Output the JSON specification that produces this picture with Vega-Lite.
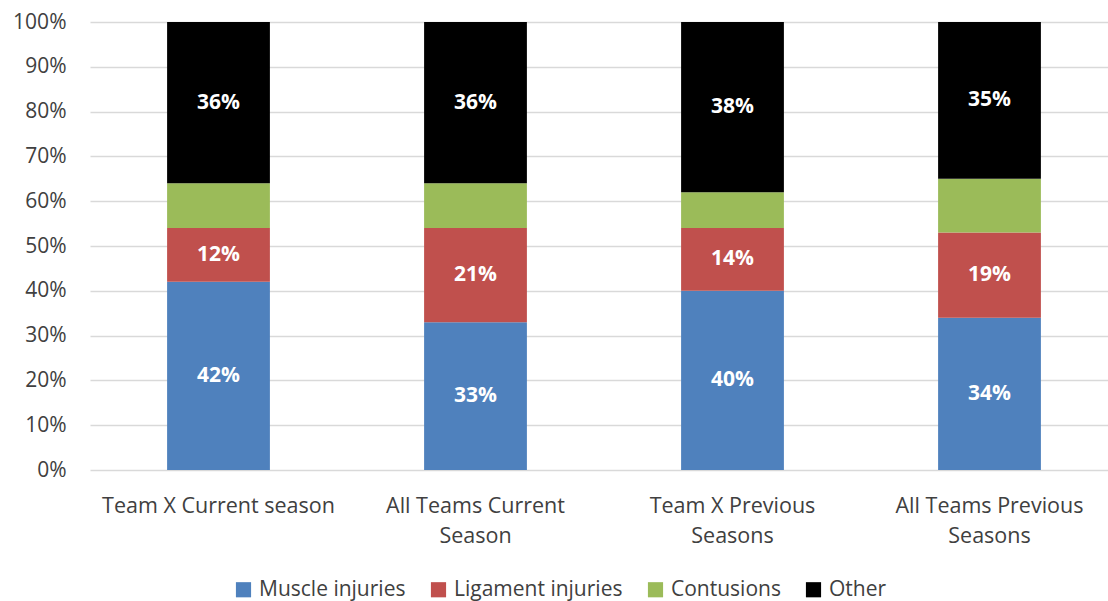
{
  "$schema": "https://vega.github.io/schema/vega-lite/v6.json",
  "width": 1018,
  "height": 448,
  "autosize": {"type": "none"},
  "padding": {"left": 90, "top": 22, "right": 0, "bottom": 131},
  "background": "white",
  "config": {
    "view": {"stroke": null},
    "font": "Open Sans",
    "axis": {"labelFont": "Open Sans", "labelColor": "#404040"},
    "legend": {"labelFont": "Open Sans"}
  },
  "data": {
    "values": [
      {"group": "Team X Current season", "type": "Muscle injuries", "value": 0.42},
      {"group": "Team X Current season", "type": "Ligament injuries", "value": 0.12},
      {"group": "Team X Current season", "type": "Contusions", "value": 0.10},
      {"group": "Team X Current season", "type": "Other", "value": 0.36},
      {"group": "All Teams Current Season", "type": "Muscle injuries", "value": 0.33},
      {"group": "All Teams Current Season", "type": "Ligament injuries", "value": 0.21},
      {"group": "All Teams Current Season", "type": "Contusions", "value": 0.10},
      {"group": "All Teams Current Season", "type": "Other", "value": 0.36},
      {"group": "Team X Previous Seasons", "type": "Muscle injuries", "value": 0.40},
      {"group": "Team X Previous Seasons", "type": "Ligament injuries", "value": 0.14},
      {"group": "Team X Previous Seasons", "type": "Contusions", "value": 0.08},
      {"group": "Team X Previous Seasons", "type": "Other", "value": 0.38},
      {"group": "All Teams Previous Seasons", "type": "Muscle injuries", "value": 0.34},
      {"group": "All Teams Previous Seasons", "type": "Ligament injuries", "value": 0.19},
      {"group": "All Teams Previous Seasons", "type": "Contusions", "value": 0.12},
      {"group": "All Teams Previous Seasons", "type": "Other", "value": 0.35}
    ]
  },
  "transform": [
    {"calculate": "indexof(['Muscle injuries','Ligament injuries','Contusions','Other'], datum.type)", "as": "ord"},
    {"stack": "value", "groupby": ["group"], "sort": [{"field": "ord", "order": "ascending"}], "as": ["y0", "y1"]},
    {"calculate": "(datum.y0 + datum.y1) / 2", "as": "mid"}
  ],
  "encoding": {
    "x": {
      "field": "group",
      "type": "nominal",
      "sort": ["Team X Current season", "All Teams Current Season", "Team X Previous Seasons", "All Teams Previous Seasons"],
      "scale": {"range": [0, 1028], "paddingInner": 0.6, "paddingOuter": 0.3},
      "axis": {
        "title": null,
        "labelAngle": 0,
        "domain": false,
        "ticks": false,
        "labelFontSize": 21.5,
        "labelPadding": 25,
        "labelLineHeight": 30,
        "labelLimit": 400,
        "labelOverlap": false,
        "labelExpr": "datum.label == 'All Teams Current Season' ? ['All Teams Current', 'Season'] : datum.label == 'Team X Previous Seasons' ? ['Team X Previous', 'Seasons'] : datum.label == 'All Teams Previous Seasons' ? ['All Teams Previous', 'Seasons'] : datum.label"
      }
    }
  },
  "layer": [
    {
      "mark": {"type": "bar"},
      "encoding": {
        "y": {
          "field": "y0",
          "type": "quantitative",
          "scale": {"domain": [0, 1]},
          "axis": {
            "title": null,
            "format": ".0%",
            "values": [0, 0.1, 0.2, 0.3, 0.4, 0.5, 0.6, 0.7, 0.8, 0.9, 1],
            "labelOverlap": false,
            "domain": false,
            "ticks": false,
            "gridColor": "#D9D9D9",
            "gridWidth": 1.5,
            "labelFontSize": 21,
            "labelPadding": 24
          }
        },
        "y2": {"field": "y1"},
        "color": {
          "field": "type",
          "type": "nominal",
          "scale": {
            "domain": ["Muscle injuries", "Ligament injuries", "Contusions", "Other"],
            "range": ["#4F81BD", "#C0504D", "#9BBB59", "#000000"]
          },
          "legend": {
            "title": null,
            "orient": "none",
            "direction": "horizontal",
            "legendX": 143,
            "legendY": 557,
            "symbolType": "square",
            "symbolSize": 230,
            "symbolStrokeWidth": 0,
            "labelFontSize": 21,
            "labelColor": "#404040",
            "labelLimit": 300,
            "columnPadding": 22,
            "labelOffset": 5
          }
        }
      }
    },
    {
      "transform": [{"filter": "datum.type != 'Contusions'"}],
      "mark": {"type": "text", "color": "white", "fontWeight": "bold", "fontSize": 21},
      "encoding": {
        "y": {"field": "mid", "type": "quantitative"},
        "text": {"field": "value", "type": "quantitative", "format": ".0%"}
      }
    }
  ]
}
